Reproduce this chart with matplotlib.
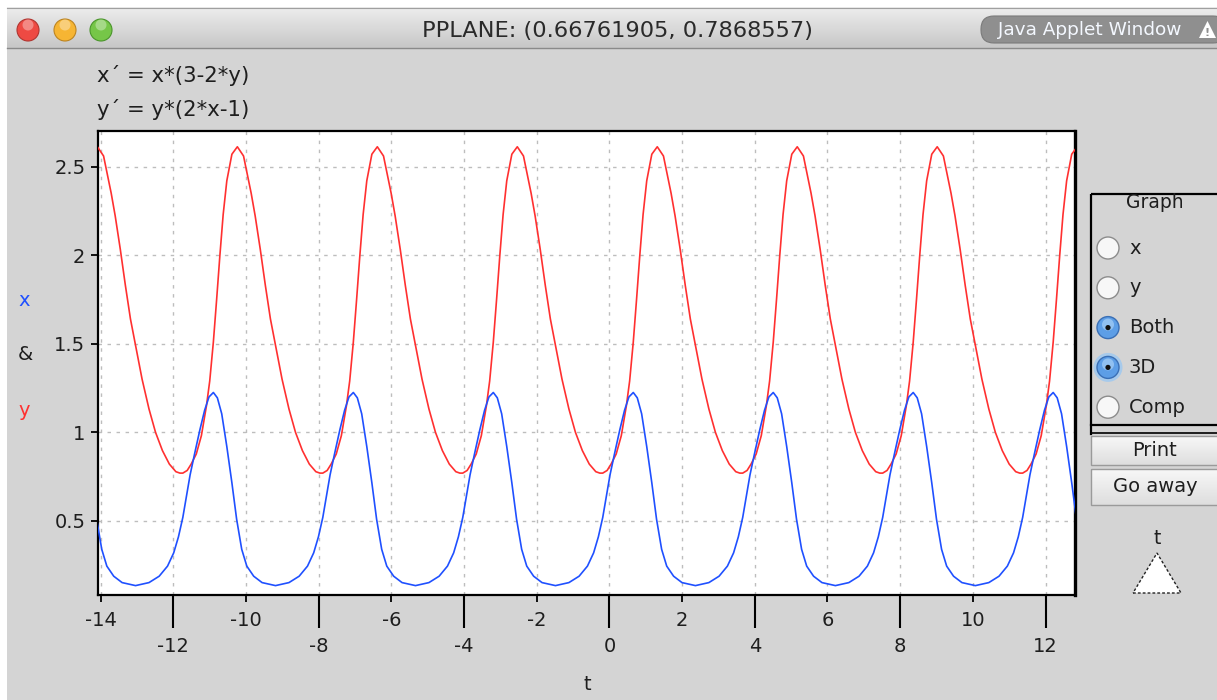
import numpy as np
import matplotlib
matplotlib.use("Agg")
import matplotlib.pyplot as plt
from matplotlib.patches import Circle, Rectangle, FancyBboxPatch, Polygon
from matplotlib.ticker import FixedLocator, FixedFormatter

plt.rcParams["font.family"] = ["DejaVu Sans"]

W, H = 1217, 700

# One oscillation of the solution, time measured from each minimum of y
cycle_tau_x = [0.00, 0.10, 0.20, 0.33, 0.47, 0.60, 0.72, 0.84, 0.95, 1.07, 1.21,
               1.35, 1.48, 1.62, 1.76, 1.95, 2.18, 2.55, 2.92, 3.20, 3.43, 3.60, 3.73]
cycle_x = [0.52, 0.64, 0.76, 0.885, 1.015, 1.125, 1.200, 1.225, 1.195, 1.105, 0.920,
           0.715, 0.510, 0.340, 0.245, 0.188, 0.152, 0.135, 0.152, 0.188, 0.245, 0.320, 0.410]
cycle_tau_y = [0.00, 0.12, 0.23, 0.37, 0.51, 0.65, 0.74, 0.84, 0.93, 1.02, 1.11, 1.21,
               1.35, 1.50, 1.67, 1.76, 1.88, 1.99, 2.13, 2.27, 2.41, 2.55, 2.73, 2.92,
               3.10, 3.29, 3.48, 3.66, 3.77]
cycle_y = [0.770, 0.785, 0.821, 0.878, 0.981, 1.150, 1.290, 1.510, 1.750, 2.000, 2.230,
           2.420, 2.570, 2.612, 2.560, 2.470, 2.350, 2.222, 2.034, 1.830, 1.640, 1.490,
           1.300, 1.132, 1.000, 0.897, 0.821, 0.778, 0.770]
# times at which y reaches its minimum
cycle_starts = [-15.587, -11.736, -7.885, -4.034, -0.183, 3.668, 7.519, 11.370]

t_min, t_max = -14.07, 12.81
v_min, v_max = 0.082, 2.701

major_t = [-12, -8, -4, 0, 4, 8, 12]
minor_t = [-14, -10, -6, -2, 2, 6, 10]
y_ticks = [0.5, 1.0, 1.5, 2.0, 2.5]
y_labels = ["0.5", "1", "1.5", "2", "2.5"]

title_text = "PPLANE: (0.66761905, 0.7868557)"
eq_x = "x\u00b4 = x*(3-2*y)"
eq_y = "y\u00b4 = y*(2*x-1)"
radio_labels = ["x", "y", "Both", "3D", "Comp"]
radio_selected = [False, False, True, True, False]
radio_focus = [False, False, False, True, False]

# full series assembled cycle by cycle
tx = np.concatenate([s + np.asarray(cycle_tau_x) for s in cycle_starts])
xv = np.concatenate([np.asarray(cycle_x) for _ in cycle_starts])
ty = np.concatenate([s + np.asarray(cycle_tau_y) for s in cycle_starts])
yv = np.concatenate([np.asarray(cycle_y) for _ in cycle_starts])

BODY = "#d4d4d4"
TXT = "#1e1e1e"
BLUE = "#1f50ff"
RED = "#ff3030"

fig = plt.figure(figsize=(W / 100, H / 100), dpi=100)
fig.patch.set_facecolor(BODY)

# window chrome drawn in pixel coordinates
bg = fig.add_axes([0, 0, 1, 1], zorder=0)
bg.set_xlim(0, W)
bg.set_ylim(H, 0)
bg.axis("off")

bg.add_patch(Rectangle((0, 0), W, 7, facecolor="white", edgecolor="none"))
bg.add_patch(Rectangle((0, 0), 7, H, facecolor="white", edgecolor="none"))
grad = np.linspace(0, 1, 64)[:, None]
top_c = np.array([0.93, 0.93, 0.93])
bot_c = np.array([0.78, 0.78, 0.78])
img = (top_c[None, None, :] * (1 - grad[:, :, None]) + bot_c[None, None, :] * grad[:, :, None])
bg.imshow(img, extent=(7, W, 48, 7), aspect="auto", origin="upper", zorder=1)
bg.plot([7, W], [7.5, 7.5], color="#a0a0a0", lw=0.8, zorder=2)
bg.plot([7, W], [48, 48], color="#8a8a8a", lw=1.0, zorder=2)

for cx, fc, ec in [(28, "#ee4a43", "#b03530"), (65, "#f6b533", "#bd8420"), (101, "#76c648", "#4a952b")]:
    bg.add_patch(Circle((cx, 30), 11, facecolor=fc, edgecolor=ec, lw=0.8, zorder=3))
    bg.add_patch(Circle((cx, 25), 5.5, facecolor="white", alpha=0.35, edgecolor="none", zorder=4))

bg.text(618, 31, title_text, fontsize=16.2, color="#2a2a2a", ha="center", va="center", zorder=5)

bg.add_patch(FancyBboxPatch((981, 16), 245, 27, boxstyle="round,pad=0,rounding_size=13",
                            facecolor="#8f8f8f", edgecolor="#7a7a7a", lw=0.8, zorder=3))
bg.text(1090, 30, "Java Applet Window", fontsize=13.3, color="#f4f8ff", ha="center",
        va="center", zorder=5)
bg.add_patch(Polygon([[1199, 38], [1216, 38], [1207.5, 21]], closed=True,
                     facecolor="white", edgecolor="none", zorder=5))
bg.text(1207.5, 32.5, "!", fontsize=8, color="#8f8f8f", ha="center", va="center",
        fontweight="bold", zorder=6)

bg.text(97, 75, eq_x, fontsize=15.3, color=TXT, ha="left", va="center")
bg.text(97, 109, eq_y, fontsize=15.3, color=TXT, ha="left", va="center")

bg.text(24, 300, "x", fontsize=14, color=BLUE, ha="center", va="center")
bg.text(25, 355, "&", fontsize=14, color=TXT, ha="center", va="center")
bg.text(24, 410, "y", fontsize=14, color=RED, ha="center", va="center")
bg.text(587, 684, "t", fontsize=14, color=TXT, ha="center", va="center")

# control panel on the right
bg.add_patch(Rectangle((1091, 194), 140, 231, facecolor="none", edgecolor="black", lw=1.6, zorder=2))
bg.plot([1091, W], [433, 433], color="black", lw=1.2, zorder=2)
bg.plot([1091, 1091], [425, 434], color="black", lw=1.6, zorder=2)
bg.text(1155, 203, "Graph", fontsize=13.5, color=TXT, ha="center", va="center", zorder=3)
for i, (lab, sel, foc) in enumerate(zip(radio_labels, radio_selected, radio_focus)):
    cy = 248 + i * 39.8
    if foc:
        bg.add_patch(Circle((1108, cy), 14.5, facecolor="#9cc8f2", edgecolor="none", alpha=0.8, zorder=2))
    if sel:
        bg.add_patch(Circle((1108, cy), 11, facecolor="#5d9ee6", edgecolor="#3a6fb5", lw=1, zorder=3))
        bg.add_patch(Circle((1108, cy - 3), 6, facecolor="#a8d0f7", edgecolor="none", alpha=0.7, zorder=3))
        bg.add_patch(Circle((1108, cy), 2.6, facecolor="#111111", edgecolor="none", zorder=4))
    else:
        bg.add_patch(Circle((1108, cy), 11, facecolor="#f7f7f7", edgecolor="#8c8c8c", lw=1, zorder=3))
    bg.text(1129, cy, lab, fontsize=14, color=TXT, ha="left", va="center", zorder=4)

for (y0, y1, lab) in [(436, 465, "Print"), (469, 505, "Go away")]:
    h = y1 - y0
    g = np.linspace(0, 1, 32)[:, None]
    bimg = (np.array([0.97, 0.97, 0.97])[None, None, :] * (1 - g[:, :, None])
            + np.array([0.87, 0.87, 0.87])[None, None, :] * g[:, :, None])
    bg.imshow(bimg, extent=(1091, W, y1, y0), aspect="auto", origin="upper", zorder=2)
    bg.add_patch(Rectangle((1091, y0), 140, h, facecolor="none", edgecolor="#9a9a9a", lw=1, zorder=3))
    bg.text(1155, (y0 + y1) / 2, lab, fontsize=14, color=TXT, ha="center", va="center", zorder=4)

bg.text(1157, 539, "t", fontsize=13.5, color=TXT, ha="center", va="center")
bg.add_patch(Polygon([[1133, 593], [1181, 593], [1157, 553]], closed=True, facecolor="white",
                     edgecolor="#222222", lw=1.0, linestyle=(0, (2, 1.5)), zorder=3))

# the time series plot
ax = fig.add_axes([98 / W, 1 - 595 / H, (1075 - 98) / W, (595 - 131) / H], zorder=1)
ax.set_facecolor("white")
ax.plot(ty, yv, color=RED, lw=1.2, zorder=3)
ax.plot(tx, xv, color=BLUE, lw=1.2, zorder=3)
ax.set_xlim(t_min, t_max)
ax.set_ylim(v_min, v_max)

ax.xaxis.set_major_locator(FixedLocator(major_t))
ax.xaxis.set_major_formatter(FixedFormatter([str(v) for v in major_t]))
ax.xaxis.set_minor_locator(FixedLocator(minor_t))
ax.xaxis.set_minor_formatter(FixedFormatter([str(v) for v in minor_t]))
ax.yaxis.set_major_locator(FixedLocator(y_ticks))
ax.yaxis.set_major_formatter(FixedFormatter(y_labels))

ax.tick_params(axis="x", which="major", direction="out", length=24, width=1.5,
               pad=6, labelsize=14, labelcolor=TXT)
ax.tick_params(axis="x", which="minor", direction="out", length=5, width=1.3,
               pad=6.5, labelsize=14, labelcolor=TXT)
ax.tick_params(axis="y", which="major", direction="out", length=5, width=1.3,
               pad=4, labelsize=14, labelcolor=TXT)

grid_kw = dict(color="#bdbdbd", lw=1.0, linestyle=(0, (2.5, 4)))
ax.grid(True, which="both", axis="x", **grid_kw)
ax.grid(True, which="major", axis="y", **grid_kw)
ax.set_axisbelow(True)
for side in ["left", "bottom", "top", "right"]:
    ax.spines[side].set_linewidth(1.6)
    ax.spines[side].set_color("black")
ax.spines["right"].set_linewidth(2.4)

fig.savefig("out.png", dpi=100, facecolor=fig.get_facecolor())
